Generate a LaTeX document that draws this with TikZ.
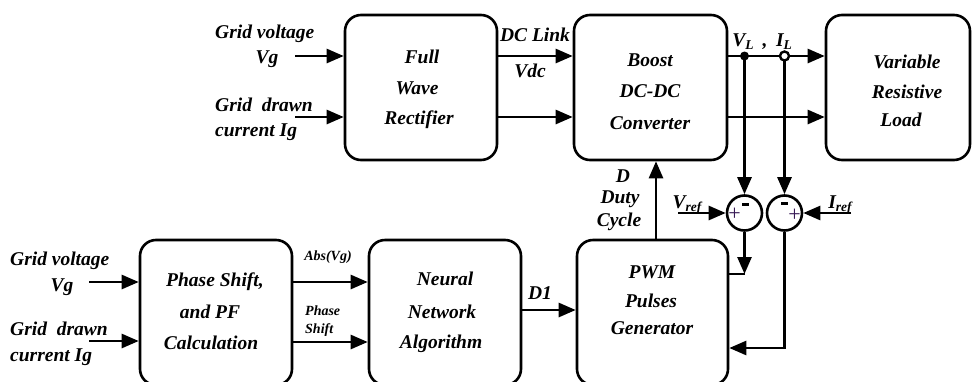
\documentclass[tikz,border=0pt]{standalone}
\usepackage{fontspec}
\setmainfont{Liberation Serif}
\usetikzlibrary{arrows.meta}
\newcommand\lbfont{\fontsize{19.5}{22}\selectfont\bfseries\itshape}
\newcommand\smlfont{\fontsize{14}{16}\selectfont\bfseries\itshape}
\newcommand\subL[1]{\raisebox{-3pt}{\fontsize{13.5}{13.5}\selectfont #1}}
\definecolor{plusc}{RGB}{55,25,85}
\begin{document}
\begin{tikzpicture}[x=1pt,y=-1pt,
  blk/.style={draw, line width=2.6pt, rounded corners=16pt, inner sep=0pt},
  arr/.style={line width=2.6pt, -{Triangle[length=17pt,width=14pt]}},
  ln/.style={line width=2.6pt},
  lbl/.style={font=\lbfont, inner sep=0pt, text height=12.5pt, text depth=0pt},
  sml/.style={font=\smlfont, inner sep=0pt, text height=9.5pt, text depth=0pt},
  sumc/.style={draw, circle, line width=2.6pt, minimum size=35pt, inner sep=0pt, fill=white},
  dotf/.style={circle, fill=black, minimum size=9pt, inner sep=0pt},
  doto/.style={circle, draw, fill=white, line width=2.4pt, minimum size=9pt, inner sep=0pt},
  plussign/.style={font=\fontsize{22}{22}\selectfont, text=plusc, inner sep=0pt},
  minussign/.style={fill=black, minimum width=6.5pt, minimum height=3pt, inner sep=0pt}]
\useasboundingbox (0,0) rectangle (972,381);
\clip (0,0) rectangle (972,381);

% blocks
\node[blk, minimum width=152pt, minimum height=145pt] (rect) at (421,87.5) {};
\node[blk, minimum width=153pt, minimum height=145pt] (boost) at (650.5,87.5) {};
\node[blk, minimum width=144pt, minimum height=145pt] (load) at (898,87.5) {};
\node[blk, minimum width=152pt, minimum height=145pt] (phase) at (216,312.5) {};
\node[blk, minimum width=152pt, minimum height=145pt] (neural) at (445,312.5) {};
\node[blk, minimum width=151pt, minimum height=145pt] (pwm) at (652.5,312.5) {};

% block texts
\node[lbl] (t1) at (422,57) {Full};
\node[lbl] (t2) at (417,88) {Wave};
\node[lbl] (t3) at (419,118) {Rectifier};
\node[lbl] (t4) at (650,60) {Boost};
\node[lbl] (t5) at (650,91) {DC-DC};
\node[lbl] (t6) at (650,123) {Converter};
\node[lbl] (t7) at (907,62) {Variable};
\node[lbl] (t8) at (907,92) {Resistive};
\node[lbl] (t9) at (901,120) {Load};
\node[lbl] (t10) at (215,280) {Phase Shift,};
\node[lbl] (t11) at (210,312) {and PF};
\node[lbl] (t12) at (211,343) {Calculation};
\node[lbl] (t13) at (445,279) {Neural};
\node[lbl] (t14) at (442,312) {Network};
\node[lbl] (t15) at (441,342) {Algorithm};
\node[lbl] (t16) at (652,272) {PWM};
\node[lbl] (t17) at (651,301) {Pulses};
\node[lbl] (t18) at (652,328) {Generator};

% coordinates
\coordinate (ya) at (0,56);
\coordinate (yb) at (0,117);
\coordinate (in1) at (295,56);
\coordinate (in2) at (295,117);
\coordinate (in3) at (89,282);
\coordinate (in4) at (89,341);
\coordinate (yc) at (0,282);
\coordinate (yd) at (0,342);
\coordinate (ye) at (0,310);
\coordinate (yf) at (0,348);
\coordinate (dx) at (656,0);
\coordinate (vl) at (744.5,56);
\coordinate (il) at (784.5,56);
\coordinate (vr) at (678,213);
\coordinate (ir) at (851,213);
\coordinate (k1) at (744.5,274);

% summing junctions
\node[sumc] (s1) at (744.5,213) {};
\node[sumc] (s2) at (784.5,213) {};

% top row connectors
\draw[arr] (in1) -- (in1 -| rect.west);
\draw[arr] (in2) -- (in2 -| rect.west);
\draw[arr] (rect.east |- ya) -- (boost.west |- ya);
\draw[arr] (rect.east |- yb) -- (boost.west |- yb);
\draw[arr] (boost.east |- ya) -- (load.west |- ya);
\draw[arr] (boost.east |- yb) -- (load.west |- yb);
\draw[arr] (vl) -- (s1.north);
\draw[arr] (il) -- (s2.north);
\node[dotf] (vldot) at (vl) {};
\node[doto] (ildot) at (il) {};

% references
\draw[arr] (vr) -- (s1.west);
\draw[arr] (ir) -- (s2.east);

% feedback to PWM
\draw[arr] (s1.south) -- (k1);
\draw[ln] (k1) -- (k1 -| pwm.east);
\draw[arr] (s2.south) |- (pwm.east |- yf);

% duty cycle
\draw[arr] (pwm.north -| dx) -- (boost.south -| dx);

% bottom row connectors
\draw[arr] (in3) -- (in3 -| phase.west);
\draw[arr] (in4) -- (in4 -| phase.west);
\draw[arr] (phase.east |- yc) -- (neural.west |- yc);
\draw[arr] (phase.east |- yd) -- (neural.west |- yd);
\draw[arr] (neural.east |- ye) -- (pwm.west |- ye);

% signs in junctions
\node[plussign] (p1) at (734.5,214) {+};
\node[minussign] (m1) at (745.5,204) {};
\node[minussign] (m2) at (784.5,203) {};
\node[plussign] (p2) at (794.5,215) {+};

% labels
\node[lbl, anchor=west] (g1) at (215,32) {Grid voltage};
\node[lbl] (g2) at (267,57) {Vg};
\node[lbl, anchor=west] (g3) at (215,105) {Grid\ \ drawn};
\node[lbl, anchor=west] (g4) at (215,130) {current Ig};
\node[lbl, anchor=west] (g5) at (10,259) {Grid voltage};
\node[lbl] (g6) at (62,285) {Vg};
\node[lbl, anchor=west] (g7) at (10,329) {Grid\ \ drawn};
\node[lbl, anchor=west] (g8) at (10,355) {current Ig};
\node[lbl] (dcl) at (535,35) {DC Link};
\node[lbl] (vdc) at (530,71) {Vdc};
\node[lbl] (vlt) at (743,40) {V\subL{L}};
\node[lbl] (cm) at (765,40) {,};
\node[lbl] (ilt) at (784,40) {I\subL{L}};
\node[lbl] (vrt) at (687,202) {V\subL{ref}};
\node[lbl] (irt) at (840,202) {I\subL{ref}};
\node[lbl] (d0) at (623,176) {D};
\node[lbl] (d1) at (620,197) {Duty};
\node[lbl] (d2) at (619,220) {Cycle};
\node[sml] (abs) at (328,256) {Abs(Vg)};
\node[sml, anchor=west] (ph1) at (305,311) {Phase};
\node[sml, anchor=west] (ph2) at (305,329) {Shift};
\node[lbl] (d1l) at (540,293) {D1};
\end{tikzpicture}
\end{document}
